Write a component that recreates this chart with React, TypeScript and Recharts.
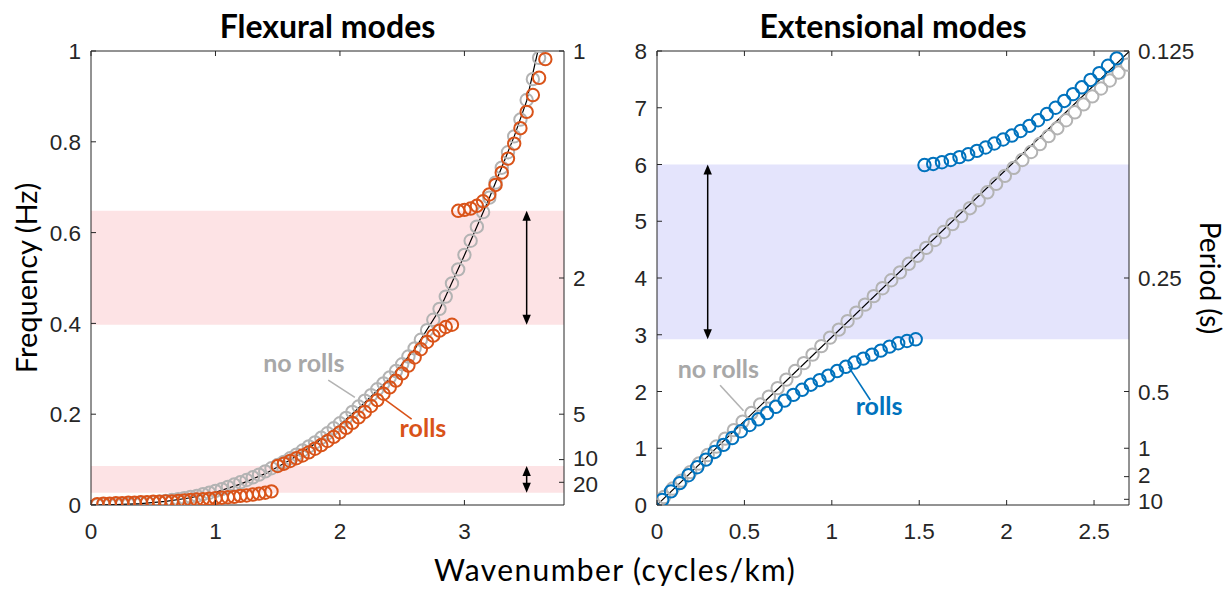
import React from 'react';
import {
  ComposedChart,
  Scatter,
  Line,
  XAxis,
  YAxis,
  ReferenceArea,
  ReferenceLine,
  ReferenceDot,
} from 'recharts';

// ---------------- data: Flexural modes ----------------
const flexNoRollsK = [0.05,0.1,0.15,0.2,0.25,0.3,0.35,0.4,0.45,0.5,0.55,0.6,0.65,0.7,0.75,0.8,0.85,0.9,0.95,1,1.05,1.1,1.15,1.2,1.25,1.3,1.35,1.4,1.45,1.5,1.55,1.6,1.65,1.7,1.75,1.8,1.85,1.9,1.95,2,2.05,2.1,2.15,2.2,2.25,2.3,2.35,2.4,2.45,2.5,2.55,2.6,2.65,2.7,2.75,2.8,2.85,2.9,2.95,3,3.05,3.1,3.15,3.2,3.25,3.3,3.35,3.4,3.45,3.5,3.55,3.6];
const flexNoRollsF = [0.000,0.001,0.001,0.001,0.002,0.002,0.003,0.004,0.005,0.006,0.007,0.009,0.011,0.013,0.015,0.018,0.020,0.024,0.027,0.031,0.035,0.040,0.045,0.050,0.055,0.061,0.067,0.074,0.081,0.088,0.095,0.103,0.111,0.120,0.129,0.138,0.148,0.158,0.169,0.180,0.192,0.205,0.217,0.230,0.242,0.255,0.268,0.281,0.295,0.310,0.327,0.345,0.364,0.385,0.408,0.432,0.459,0.488,0.519,0.551,0.582,0.613,0.645,0.677,0.710,0.743,0.777,0.812,0.849,0.892,0.938,0.985];

const flexRollsK = [0.05,0.1,0.15,0.2,0.25,0.3,0.35,0.4,0.45,0.5,0.55,0.6,0.65,0.7,0.75,0.8,0.85,0.9,0.95,1,1.05,1.1,1.15,1.2,1.25,1.3,1.35,1.4,1.45,
  1.5,1.55,1.6,1.65,1.7,1.75,1.8,1.85,1.9,1.95,2,2.05,2.1,2.15,2.2,2.25,2.3,2.35,2.4,2.45,2.5,2.55,2.6,2.65,2.7,2.75,2.8,2.85,2.9,
  2.95,3,3.05,3.1,3.15,3.2,3.25,3.3,3.35,3.4,3.45,3.5,3.55,3.6,3.65];
const flexRollsF = [0.002,0.003,0.003,0.004,0.004,0.005,0.005,0.006,0.006,0.007,0.007,0.008,0.008,0.009,0.010,0.011,0.012,0.013,0.014,0.015,0.016,0.017,0.018,0.020,0.021,0.023,0.025,0.027,0.030,
  0.086,0.091,0.097,0.103,0.109,0.116,0.124,0.132,0.141,0.150,0.160,0.170,0.181,0.193,0.205,0.218,0.231,0.245,0.259,0.274,0.290,0.307,0.325,0.343,0.359,0.373,0.384,0.392,0.397,
  0.648,0.650,0.653,0.659,0.669,0.684,0.705,0.732,0.763,0.796,0.830,0.866,0.903,0.941,0.982];

const flexTheoryK = [0,0.2,0.4,0.6,0.8,1,1.2,1.4,1.6,1.8,2,2.2,2.4,2.6,2.8,3,3.2,3.4,3.5,3.59];
const flexTheoryF = [0,0.001,0.003,0.008,0.016,0.028,0.046,0.069,0.099,0.135,0.177,0.226,0.279,0.343,0.430,0.550,0.676,0.812,0.890,1.0];

const flexXTicks = [0, 1, 2, 3];
const flexYTicks = [0, 0.2, 0.4, 0.6, 0.8, 1];
const flexPeriodLabels = [1, 2, 5, 10, 20];
const flexBands = [[0.027, 0.086], [0.397, 0.648]];
const flexArrows = [{ k: 3.5, f1: 0.397, f2: 0.648 }, { k: 3.5, f1: 0.027, f2: 0.086 }];

// ---------------- data: Extensional modes ----------------
const extNoRollsK = [0.04,0.09,0.14,0.19,0.24,0.29,0.34,0.39,0.44,0.49,0.54,0.59,0.64,0.69,0.74,0.79,0.84,0.89,0.94,0.99,1.04,1.09,1.14,1.19,1.24,1.29,1.34,1.39,1.44,1.49,1.54,1.59,1.64,1.69,1.74,1.79,1.84,1.89,1.94,1.99,2.04,2.09,2.14,2.19,2.24,2.29,2.34,2.39,2.44,2.49,2.54,2.59,2.64,2.69];
const extNoRollsF = [0.14,0.29,0.43,0.58,0.73,0.88,1.03,1.17,1.32,1.47,1.62,1.77,1.91,2.06,2.21,2.36,2.50,2.65,2.80,2.95,3.09,3.24,3.39,3.53,3.68,3.82,3.96,4.10,4.25,4.39,4.53,4.67,4.81,4.95,5.09,5.23,5.37,5.51,5.66,5.80,5.94,6.08,6.22,6.36,6.50,6.64,6.78,6.92,7.06,7.20,7.34,7.48,7.62,7.76];

const extRollsK = [0.03,0.08,0.13,0.18,0.23,0.28,0.33,0.38,0.43,0.48,0.53,0.58,0.63,0.68,0.73,0.78,0.83,0.88,0.93,0.98,1.03,1.08,1.13,1.18,1.23,1.28,1.33,1.38,1.43,1.48,
  1.53,1.58,1.63,1.68,1.73,1.78,1.83,1.88,1.93,1.98,2.03,2.08,2.13,2.18,2.23,2.28,2.33,2.38,2.43,2.48,2.53,2.58,2.63];
const extRollsF = [0.09,0.24,0.385,0.525,0.665,0.80,0.935,1.06,1.18,1.30,1.41,1.51,1.62,1.73,1.84,1.94,2.03,2.12,2.20,2.28,2.36,2.435,2.51,2.58,2.65,2.72,2.79,2.85,2.89,2.92,
  5.99,6.01,6.04,6.08,6.13,6.18,6.24,6.30,6.37,6.44,6.51,6.59,6.68,6.78,6.89,7.00,7.12,7.24,7.36,7.49,7.61,7.74,7.87];

const extTheoryK = [0, 2.7];
const extTheoryF = [0, 7.99];

const extXTicks = [0, 0.5, 1, 1.5, 2, 2.5];
const extYTicks = [0, 1, 2, 3, 4, 5, 6, 7, 8];
const extPeriodLabels = [0.125, 0.25, 0.5, 1, 2, 10];
const extBands = [[2.92, 6.0]];
const extArrows = [{ k: 0.29, f1: 2.92, f2: 6.0 }];

// ---------------- styles ----------------
const AXIS = '#262626';
const GRAY = '#b3b3b3';
const GRAY_TEXT = '#a8a8a8';
const RED = '#d95319';
const BLUE = '#0072bd';
const PINK = '#fde3e5';
const LAVENDER = '#e4e4fc';
const TICK_FONT = '"Liberation Sans", Arial, sans-serif';
const HUM_FONT = 'Lato, "Open Sans", sans-serif';
const TICK_SIZE = 22.5;
const TL = 5;

// small vertical nudges (px) for the two tightly spaced period labels of each panel
const flexPeriodNudge: Record<string, number> = { '10': -1.3, '20': 1.3 };
const extPeriodNudge: Record<string, number> = { '2': -1.3, '10': 1.3 };

const zip = (ks: number[], fs: number[]) => ks.map((k, i) => ({ k, f: fs[i] }));

const fmt = (v: number) => String(v);

const LeftTick = (p: any) => (
  <g>
    <line x1={p.x} y1={p.y} x2={p.x + TL} y2={p.y} stroke={AXIS} strokeWidth={1} />
    <text x={p.x - 10} y={p.y} dy="0.36em" textAnchor="end" fontFamily={TICK_FONT} fontSize={TICK_SIZE} fill={AXIS}>
      {fmt(p.payload.value)}
    </text>
  </g>
);

const makeRightTick = (periodLabels: number[], nudge: Record<string, number>) => (p: any) => {
  const v = p.payload.value;
  let idx = 0;
  let best = Infinity;
  periodLabels.forEach((pl, i) => {
    const d = Math.abs(1 / pl - v);
    if (d < best) { best = d; idx = i; }
  });
  const label = String(periodLabels[idx]);
  const dyPx = nudge[label] || 0;
  return (
    <g>
      <line x1={p.x - TL} y1={p.y} x2={p.x} y2={p.y} stroke={AXIS} strokeWidth={1} />
      <text x={p.x + 9} y={p.y + dyPx} dy="0.36em" textAnchor="start" fontFamily={TICK_FONT} fontSize={TICK_SIZE} fill={AXIS}>
        {label}
      </text>
    </g>
  );
};

const BottomTick = (p: any) => (
  <g>
    <line x1={p.x} y1={p.y - TL} x2={p.x} y2={p.y} stroke={AXIS} strokeWidth={1} />
    <text x={p.x} y={p.y + 34} textAnchor="middle" fontFamily={TICK_FONT} fontSize={TICK_SIZE} fill={AXIS}>
      {fmt(p.payload.value)}
    </text>
  </g>
);

const TopTick = (p: any) => (
  <line x1={p.x} y1={p.y} x2={p.x} y2={p.y + TL} stroke={AXIS} strokeWidth={1} />
);

const circleShape = (color: string) => (p: any) => (
  <circle cx={p.cx} cy={p.cy} r={6.2} fill="none" stroke={color} strokeWidth={2} />
);

const arrowShape = (p: any) => {
  const x = p.x1;
  const top = Math.min(p.y1, p.y2);
  const bot = Math.max(p.y1, p.y2);
  const hl = 10;
  const hw = 4.2;
  return (
    <g>
      <line x1={x} y1={top + hl - 1} x2={x} y2={bot - hl + 1} stroke="#000" strokeWidth={1.5} />
      <polygon points={`${x},${top} ${x - hw},${top + hl} ${x + hw},${top + hl}`} fill="#000" />
      <polygon points={`${x},${bot} ${x - hw},${bot - hl} ${x + hw},${bot - hl}`} fill="#000" />
    </g>
  );
};

const textShape = (text: string, color: string) => (p: any) => (
  <text x={p.cx} y={p.cy} textAnchor="middle" fontFamily={HUM_FONT} fontWeight={700} fontSize={25} fill={color}>
    {text}
  </text>
);

type PanelProps = {
  left: number;
  width: number;
  yLeftW: number;
  yRightW: number;
  xDomain: [number, number];
  xTicks: number[];
  yDomain: [number, number];
  yTicks: number[];
  periodLabels: number[];
  periodNudge: Record<string, number>;
  bands: number[][];
  bandColor: string;
  arrows: { k: number; f1: number; f2: number }[];
  theory: { k: number; f: number }[];
  noRolls: { k: number; f: number }[];
  rolls: { k: number; f: number }[];
  rollsColor: string;
  labels: { text: string; k: number; f: number; color: string }[];
  pointers: { k1: number; f1: number; k2: number; f2: number; color: string }[];
};

function Panel(props: PanelProps) {
  const periodTicks = props.periodLabels.map((p) => 1 / p);
  return (
    <div style={{ position: 'absolute', left: props.left, top: 0 }}>
      <ComposedChart width={props.width} height={590} margin={{ top: 50, right: 0, bottom: 0, left: 0 }}>
        <XAxis
          xAxisId="b"
          type="number"
          dataKey="k"
          domain={props.xDomain}
          ticks={props.xTicks}
          interval={0}
          allowDataOverflow
          height={85}
          tickSize={0}
          tickMargin={0}
          tickLine={false}
          axisLine={{ stroke: AXIS, strokeWidth: 1 }}
          tick={(p: any) => <BottomTick {...p} />}
        />
        <XAxis
          xAxisId="t"
          orientation="top"
          type="number"
          dataKey="k"
          domain={props.xDomain}
          ticks={props.xTicks}
          interval={0}
          allowDataOverflow
          height={1}
          tickSize={0}
          tickMargin={0}
          tickLine={false}
          axisLine={{ stroke: AXIS, strokeWidth: 1 }}
          tick={(p: any) => <TopTick {...p} />}
        />
        <YAxis
          yAxisId="f"
          type="number"
          domain={props.yDomain}
          ticks={props.yTicks}
          interval={0}
          allowDataOverflow
          width={props.yLeftW}
          tickSize={0}
          tickMargin={0}
          tickLine={false}
          axisLine={{ stroke: AXIS, strokeWidth: 1 }}
          tick={(p: any) => <LeftTick {...p} />}
        />
        <YAxis
          yAxisId="p"
          orientation="right"
          type="number"
          domain={props.yDomain}
          ticks={periodTicks}
          interval={0}
          allowDataOverflow
          width={props.yRightW}
          tickSize={0}
          tickMargin={0}
          tickLine={false}
          axisLine={{ stroke: AXIS, strokeWidth: 1 }}
          tick={makeRightTick(props.periodLabels, props.periodNudge)}
        />
        {props.bands.map((b, i) => (
          <ReferenceArea
            key={'band' + i}
            xAxisId="b"
            yAxisId="f"
            y1={b[0]}
            y2={b[1]}
            fill={props.bandColor}
            fillOpacity={1}
            stroke="none"
          />
        ))}
        {props.arrows.map((a, i) => (
          <ReferenceLine
            key={'arrow' + i}
            xAxisId="b"
            yAxisId="f"
            segment={[{ x: a.k, y: a.f1 }, { x: a.k, y: a.f2 }]}
            stroke="#000"
            shape={arrowShape}
          />
        ))}
        <Line
          xAxisId="b"
          yAxisId="f"
          data={props.theory}
          dataKey="f"
          type="linear"
          stroke="#000"
          strokeWidth={1.2}
          dot={false}
          activeDot={false}
          isAnimationActive={false}
        />
        <Scatter
          xAxisId="b"
          yAxisId="f"
          data={props.noRolls}
          dataKey="f"
          shape={circleShape(GRAY)}
          isAnimationActive={false}
        />
        <Scatter
          xAxisId="b"
          yAxisId="f"
          data={props.rolls}
          dataKey="f"
          shape={circleShape(props.rollsColor)}
          isAnimationActive={false}
        />
        {props.pointers.map((p, i) => (
          <ReferenceLine
            key={'ptr' + i}
            xAxisId="b"
            yAxisId="f"
            segment={[{ x: p.k1, y: p.f1 }, { x: p.k2, y: p.f2 }]}
            stroke={p.color}
            strokeWidth={1.6}
          />
        ))}
        {props.labels.map((l, i) => (
          <ReferenceDot
            key={'lbl' + i}
            xAxisId="b"
            yAxisId="f"
            x={l.k}
            y={l.f}
            r={0}
            shape={textShape(l.text, l.color)}
          />
        ))}
      </ComposedChart>
    </div>
  );
}

export default function App() {
  return (
    <div style={{ position: 'absolute', left: 0, top: 0, width: 1231, height: 590, background: '#fff', overflow: 'hidden' }}>
      <Panel
        left={0}
        width={615}
        yLeftW={91}
        yRightW={51}
        xDomain={[0, 3.8]}
        xTicks={flexXTicks}
        yDomain={[0, 1]}
        yTicks={flexYTicks}
        periodLabels={flexPeriodLabels}
        periodNudge={flexPeriodNudge}
        bands={flexBands}
        bandColor={PINK}
        arrows={flexArrows}
        theory={zip(flexTheoryK, flexTheoryF)}
        noRolls={zip(flexNoRollsK, flexNoRollsF)}
        rolls={zip(flexRollsK, flexRollsF)}
        rollsColor={RED}
        labels={[
          { text: 'no rolls', k: 1.71, f: 0.292, color: GRAY_TEXT },
          { text: 'rolls', k: 2.667, f: 0.149, color: RED },
        ]}
        pointers={[
          { k1: 1.906, f1: 0.275, k2: 2.12, f2: 0.237, color: GRAY },
          { k1: 2.348, f1: 0.235, k2: 2.576, f2: 0.189, color: RED },
        ]}
      />
      <Panel
        left={615}
        width={616}
        yLeftW={42}
        yRightW={102}
        xDomain={[0, 2.7]}
        xTicks={extXTicks}
        yDomain={[0, 8]}
        yTicks={extYTicks}
        periodLabels={extPeriodLabels}
        periodNudge={extPeriodNudge}
        bands={extBands}
        bandColor={LAVENDER}
        arrows={extArrows}
        theory={zip(extTheoryK, extTheoryF)}
        noRolls={zip(extNoRollsK, extNoRollsF)}
        rolls={zip(extRollsK, extRollsF)}
        rollsColor={BLUE}
        labels={[
          { text: 'no rolls', k: 0.351, f: 2.23, color: GRAY_TEXT },
          { text: 'rolls', k: 1.27, f: 1.585, color: BLUE },
        ]}
        pointers={[
          { k1: 0.361, f1: 2.11, k2: 0.495, f2: 1.66, color: GRAY },
          { k1: 1.096, f1: 2.435, k2: 1.22, f2: 1.85, color: BLUE },
        ]}
      />
      <svg
        width={1231}
        height={590}
        style={{ position: 'absolute', left: 0, top: 0, pointerEvents: 'none' }}
      >
        <text x={327.5} y={38} textAnchor="middle" fontFamily={HUM_FONT} fontWeight={700} fontSize={32} fill="#000">
          Flexural modes
        </text>
        <text x={893} y={38} textAnchor="middle" fontFamily={HUM_FONT} fontWeight={700} fontSize={32} fill="#000">
          Extensional modes
        </text>
        <text x={615} y={581} textAnchor="middle" fontFamily={HUM_FONT} fontSize={30} letterSpacing={1.4} fill="#000">
          Wavenumber (cycles/km)
        </text>
        <text
          x={37}
          y={278}
          textAnchor="middle"
          fontFamily={HUM_FONT}
          fontSize={29}
          fill="#000"
          transform="rotate(-90 37 278)"
        >
          Frequency (Hz)
        </text>
        <text
          x={1200}
          y={278}
          textAnchor="middle"
          fontFamily={HUM_FONT}
          fontSize={28}
          fill="#000"
          transform="rotate(90 1200 278)"
        >
          Period (s)
        </text>
      </svg>
    </div>
  );
}
